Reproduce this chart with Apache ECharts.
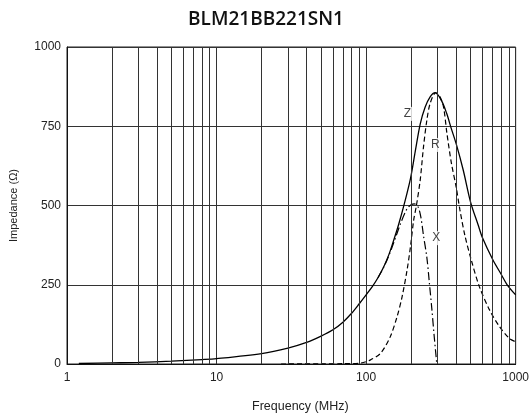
<!DOCTYPE html>
<html><head><meta charset="utf-8">
<script src="https://cdn.jsdelivr.net/npm/echarts@6/dist/echarts.min.js"></script>
<style>html,body{margin:0;padding:0;background:#fff}#c{width:532px;height:418px}</style>
</head><body><div id="c"></div>
<script>
const chartTitle = 'BLM21BB221SN1';
const xName = 'Frequency (MHz)';
const yName = 'Impedance (Ω)';
const yMin = 0, yMax = 1000, yStep = 250;
const xMin = 1, xMax = 1000;
const minorGrid = [2,3,4,5,6,7,8,9,20,30,40,50,60,70,80,90,200,300,400,500,600,700,800,900];

const zFreq = [1.2, 2, 3, 5, 8, 10, 20, 30, 40, 50, 60, 70, 80, 90, 100, 110, 120, 131, 142, 150, 165, 180, 198, 213, 230, 248, 268, 290, 320, 346, 370, 400, 446, 500, 560, 600, 705, 800, 880, 1000];
const zImp  = [1.5, 3.5, 5, 9, 14, 17, 33, 50, 68, 88, 108, 132, 160, 190, 218, 244, 272, 306, 345, 378, 440, 505, 585, 670, 757, 810, 843, 856, 830, 790, 745, 695, 612, 510, 440, 398, 328, 283, 249, 218];

const rFreq = [27, 50, 70, 92, 107, 125, 145, 161, 174, 188, 198, 208, 217, 230, 242, 255, 268, 292, 310, 329, 347, 372, 400, 424, 458, 505, 572, 670, 780, 907, 1000];
const rImp  = [0, 0.5, 1, 3, 13, 34, 86, 149, 212, 297, 370, 454, 500, 580, 685, 770, 822, 855, 845, 812, 728, 633, 559, 486, 405, 328, 244, 170, 118, 81, 70];

const xFreq = [120, 131, 142, 155, 170, 188, 200, 210, 222, 232, 242, 255, 265, 275, 285, 297];
const xImp  = [272, 305, 342, 390, 443, 490, 502, 505, 497, 465, 405, 335, 255, 175, 90, 0];

const curveNames = ['Z', 'R', 'X'];
const labelFreq = [189, 290, 294];
const labelImp  = [789, 691, 397];

const pairs = (f, v) => f.map((x, i) => [x, v[i]]);
const font = 'Liberation Sans, Arial, sans-serif';

const chart = echarts.init(document.getElementById('c'), null, {renderer: 'canvas'});
chart.setOption({
  animation: false,
  backgroundColor: '#fff',
  title: {
    text: chartTitle, left: 'center', top: 5,
    textStyle: {fontFamily: 'Open Sans', fontWeight: 600, fontSize: 19, color: '#111'}
  },
  grid: {left: 63, right: 16, top: 47, bottom: 54, show: true, borderColor: '#222', borderWidth: 1},
  xAxis: {
    type: 'log', logBase: 10, min: xMin, max: xMax,
    name: xName, nameLocation: 'middle', nameGap: 36,
    nameTextStyle: {fontFamily: font, fontSize: 12.5, color: '#222', padding: [0, 0, 0, 18]},
    axisLine: {show: true, lineStyle: {color: '#111', width: 1}},
    axisTick: {show: false},
    axisLabel: {fontFamily: font, fontSize: 12, color: '#222', margin: 8, formatter: v => String(v)},
    splitLine: {show: true, lineStyle: {color: '#333', width: 1}}
  },
  yAxis: {
    type: 'value', min: yMin, max: yMax, interval: yStep,
    name: yName, nameLocation: 'middle', nameGap: 48, nameRotate: 90,
    nameTextStyle: {fontFamily: font, fontSize: 11, color: '#222'},
    axisLine: {show: true, lineStyle: {color: '#111', width: 1}},
    axisTick: {show: false},
    axisLabel: {fontFamily: font, fontSize: 12, color: '#222', margin: 6, formatter: v => String(v)},
    splitLine: {show: true, lineStyle: {color: '#333', width: 1}}
  },
  series: [
    {
      type: 'line', data: [[xMin, yMin]], showSymbol: false, silent: true, z: 1,
      lineStyle: {width: 0},
      markLine: {
        silent: true, symbol: ['none', 'none'], label: {show: false},
        lineStyle: {color: '#333', width: 1, type: 'solid'},
        emphasis: {disabled: true},
        data: minorGrid.map(v => ({xAxis: v}))
      }
    },
    {
      name: 'Z', type: 'line', data: pairs(zFreq, zImp), showSymbol: false, smooth: 0.3, z: 3,
      lineStyle: {color: '#000', width: 1.3, type: 'solid'}
    },
    {
      name: 'R', type: 'line', data: pairs(rFreq, rImp), showSymbol: false, smooth: 0.3, z: 3,
      lineStyle: {color: '#000', width: 1.2, type: [5, 3]}
    },
    {
      name: 'X', type: 'line', data: pairs(xFreq, xImp), showSymbol: false, smooth: 0.3, z: 3,
      lineStyle: {color: '#000', width: 1.2, type: [8, 3, 1.5, 3]}
    },
    {
      type: 'scatter', z: 5, symbolSize: 1, itemStyle: {color: 'transparent'},
      data: curveNames.map((n, i) => [labelFreq[i], labelImp[i], n]),
      label: {
        show: true, position: 'inside', formatter: p => p.data[2],
        fontFamily: font, fontSize: 12, color: '#111',
        backgroundColor: '#fff', padding: [1, 1]
      }
    }
  ]
});
</script>
</body></html>
